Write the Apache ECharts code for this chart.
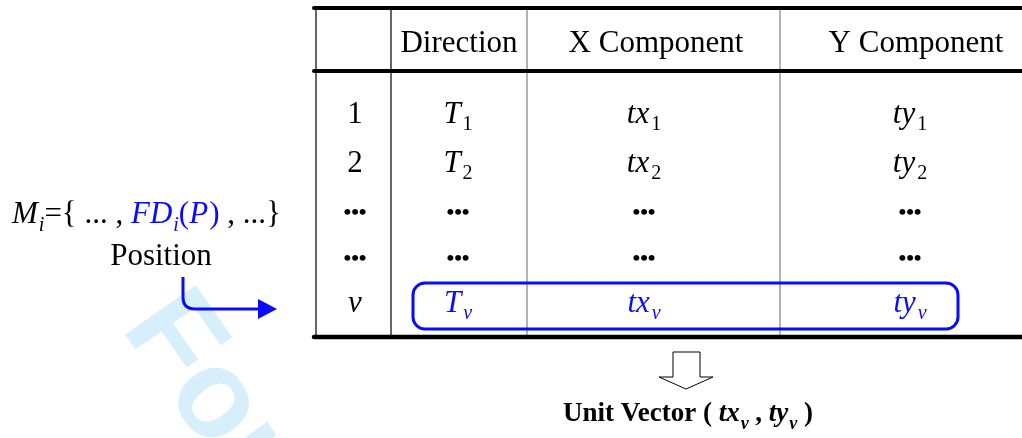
<!DOCTYPE html>
<html>
<head>
<meta charset="utf-8">
<script src="https://cdn.jsdelivr.net/npm/echarts@6/dist/echarts.min.js"></script>
<style>
  html, body { margin: 0; padding: 0; background: #fff; }
  #main { width: 1022px; height: 438px; }
</style>
</head>
<body>
<div id="main"></div>
<script>
// table content
var headers = ['', 'Direction', 'X Component', 'Y Component'];
var rowLabels = ['1', '2', '...', '...', 'v'];
var rowSubs = ['1', '2', '', '', 'v'];
var cellBases = ['T', 'tx', 'ty'];
var highlightRow = 4;
var watermark = 'For Peer Review';

var SERIF = '"Liberation Serif", "Times New Roman", serif';
var BLUE = '#0a0aff';

// layout
var colLines = [316, 391, 527, 780];
var colLineColors = ['#000', '#000', '#808080', '#808080'];
var headCenters = [354, 459, 656, 916];
var cellCenters = [355, 458, 644, 910];
var rowBaselines = [125, 174, 221, 267, 314];
var ruleTop = 8, ruleHead = 71, ruleBottom = 337;
var FS = 31;

var ctx = document.createElement('canvas').getContext('2d');
function font(size, italic, bold) {
  return (italic ? 'italic ' : '') + (bold ? 'bold ' : '') + size + 'px ' + SERIF;
}
function measure(str, f) { ctx.font = f; return ctx.measureText(str).width; }

var els = [];

function txt(str, x, baseline, f, size, color, align) {
  els.push({
    type: 'text', x: x, y: baseline - 0.34 * size, z: 10,
    style: { text: str, font: f, fill: color || '#000', align: align || 'left', verticalAlign: 'middle' }
  });
}

// runs of [text, size, italic, bold, color, dy, gap] laid out left to right
function run(tokens, x, baseline) {
  tokens.forEach(function (t) {
    var f = font(t[1], t[2], t[3]);
    txt(t[0], x, baseline + (t[5] || 0), f, t[1], t[4]);
    x += measure(t[0], f) + (t[6] || 0);
  });
}
function runWidth(tokens) {
  return tokens.reduce(function (s, t) { return s + measure(t[0], font(t[1], t[2], t[3])) + (t[6] || 0); }, 0);
}

// watermark
els.push({
  type: 'text', x: 113, y: 333, rotation: -55 * Math.PI / 180, z: 0,
  style: {
    text: watermark, x: 0, y: -0.35 * 125, align: 'left', verticalAlign: 'middle',
    font: 'bold 125px "Liberation Sans", Arial, sans-serif', fill: '#d6effb'
  }
});

// rules
[[ruleTop, 4], [ruleHead, 4], [ruleBottom, 4.5]].forEach(function (r) {
  els.push({ type: 'line', z: 5, shape: { x1: 314, y1: r[0], x2: 1030, y2: r[0] },
    style: { stroke: '#000', lineWidth: r[1], lineCap: 'round' } });
});
colLines.forEach(function (x, i) {
  els.push({ type: 'line', z: 4, shape: { x1: x, y1: ruleTop, x2: x, y2: ruleBottom },
    style: { stroke: colLineColors[i], lineWidth: 1.2 } });
});

// header
headers.forEach(function (h, i) {
  if (h) txt(h, headCenters[i], 54, font(FS), FS, '#000', 'center');
});

// body
rowLabels.forEach(function (lab, r) {
  var dots = lab === '...';
  var color = r === highlightRow ? BLUE : '#000';
  if (dots) {
    cellCenters.forEach(function (cx) {
      txt('\u2022\u2022\u2022', cx, rowBaselines[r], font(22, false, true), 22, '#000', 'center');
    });
    return;
  }
  txt(lab, cellCenters[0], rowBaselines[r], font(FS, lab === 'v'), FS, '#000', 'center');
  cellBases.forEach(function (b, c) {
    var cx = cellCenters[c + 1];
    var subItalic = !/^[0-9]+$/.test(rowSubs[r]);
    var tokens = [[b, FS, true, false, color, 0, 2], [rowSubs[r], 20, subItalic, false, color, 7]];
    run(tokens, cx - runWidth(tokens) / 2, rowBaselines[r]);
  });
});

// highlight box
els.push({ type: 'rect', z: 6, shape: { x: 413, y: 283, width: 545, height: 46, r: 12 },
  style: { stroke: BLUE, fill: 'none', lineWidth: 3 } });

// left formula
run([
  ['M', 31, true, false, '#000', 0, 1],
  ['i', 20, true, false, '#000', 8],
  ['={ ... , ', 31, false, false, '#000'],
  ['FD', 31, true, false, BLUE, 0, 1],
  ['i', 20, true, false, BLUE, 8],
  ['(', 31, false, false, BLUE],
  ['P', 31, true, false, BLUE, 0, 1],
  [')', 31, false, false, BLUE],
  [' , ...}', 31, false, false, '#000']
], 12, 225);
txt('Position', 161, 267, font(31), 31, '#000', 'center');

// curved blue arrow
var arrowStyle = { stroke: BLUE, lineWidth: 3, fill: 'none' };
els.push({ type: 'line', z: 6, shape: { x1: 183, y1: 277, x2: 183, y2: 297 }, style: arrowStyle });
els.push({ type: 'bezierCurve', z: 6, shape: { x1: 183, y1: 297, cpx1: 183, cpy1: 309, x2: 195, y2: 309 }, style: arrowStyle });
els.push({ type: 'line', z: 6, shape: { x1: 195, y1: 309, x2: 262, y2: 309 }, style: arrowStyle });
els.push({ type: 'polygon', z: 6, shape: { points: [[258, 299], [277, 309], [258, 319]] }, style: { fill: BLUE } });

// hollow down arrow
els.push({ type: 'polygon', z: 6,
  shape: { points: [[673, 352], [700, 352], [700, 377], [713, 377], [686, 389], [659, 377], [673, 377]] },
  style: { fill: '#fff', stroke: '#000', lineWidth: 1 } });

// result label
var result = [
  ['Unit Vector ( ', 27, false, true, '#000'],
  ['tx', 27, true, true, '#000', 0, 1],
  ['v', 18, true, true, '#000', 7],
  [' , ', 27, false, true, '#000'],
  ['ty', 27, true, true, '#000', 0, 1],
  ['v', 18, true, true, '#000', 7],
  [' )', 27, false, true, '#000']
];
run(result, 688 - runWidth(result) / 2, 423);

var myChart = echarts.init(document.getElementById('main'), null, { renderer: 'canvas' });
myChart.setOption({ animation: false, graphic: { elements: els } });
</script>
</body>
</html>
